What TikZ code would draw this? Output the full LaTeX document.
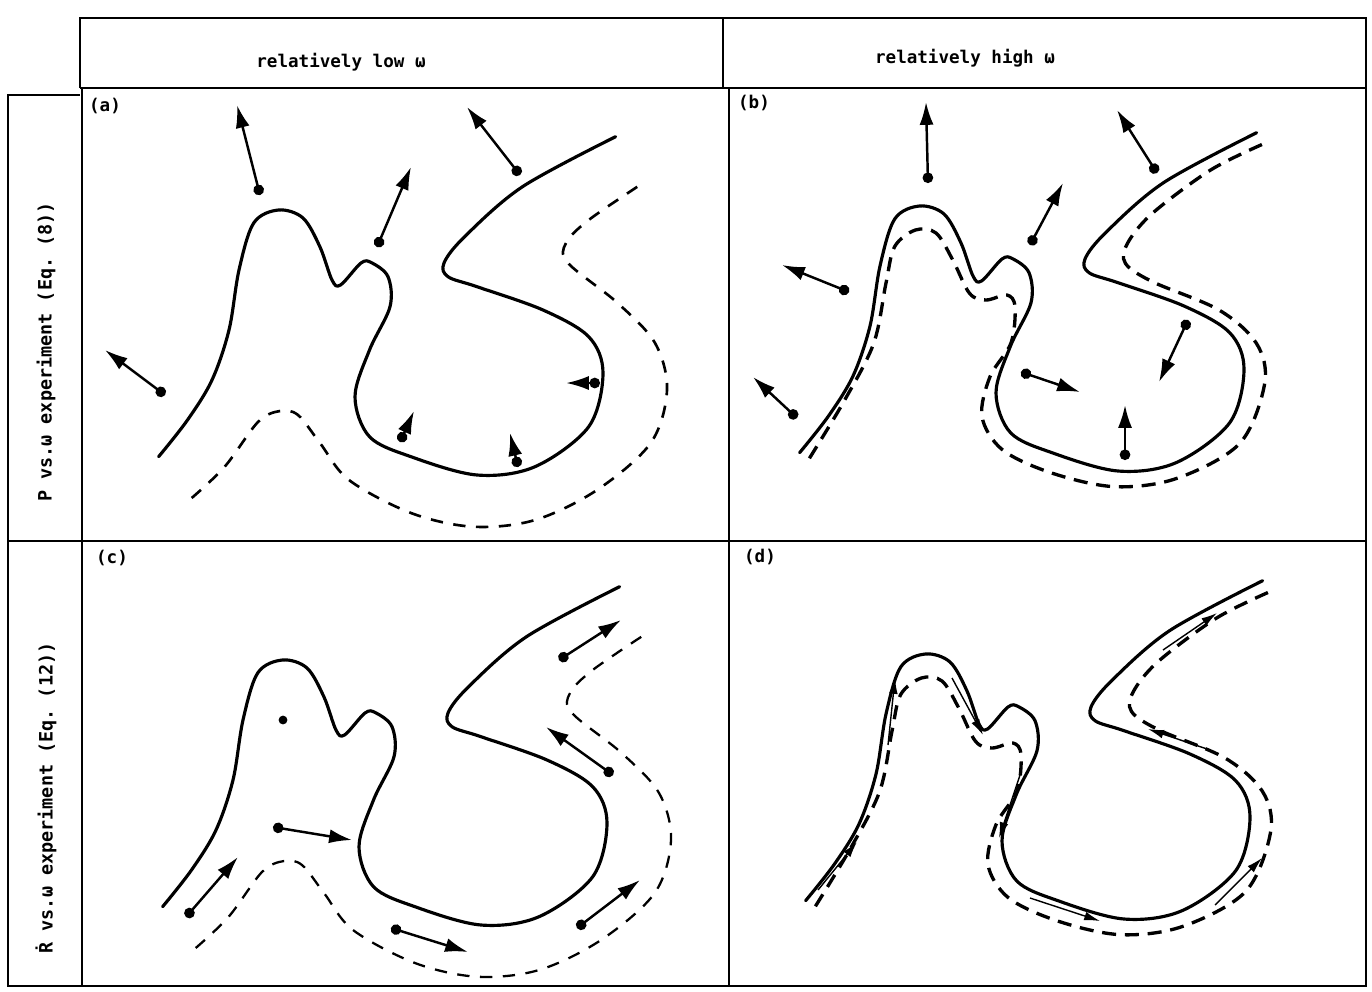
\documentclass[tikz,border=0pt]{standalone}
\usepackage{fontspec}
\setmonofont{DejaVu Sans Mono}
\usepackage{tikz}
\usetikzlibrary{arrows.meta}

\newcommand{\blob}{plot[smooth, tension=0.55] coordinates {(158.6,456.7) (187.5,420) (212,380) (229,330) (239,270) (253.7,223) (278.5,210) (303,218) (320,247) (332,280) (340.5,285) (361,263) (371.5,262.7) (388,276.7) (390,306.7) (369.5,350) (355,396.7) (369.5,436.7) (411,456.7) (477,475) (535,466.7) (588.7,426.7) (603,373) (588.7,336.7) (543,310) (477,286.7) (448,276.7) (444,263) (464.6,236.7) (522.5,186.7) (615.6,136.7)}}
\newcommand{\farfront}{plot[smooth, tension=0.55] coordinates {(191.7,498) (224.7,466.7) (258,422) (280,411) (298,415) (320,443) (349,480) (411,513) (473,526.7) (535,520) (597,490) (650.7,443) (667,390) (655,343) (617.6,303) (568,263) (566,243) (588.7,220) (640,185)}}
\newcommand{\nearfront}{plot[smooth, tension=0.55] coordinates {(168.4,462.3) (203.7,404) (232.8,347) (245,287) (253.6,250.7) (274.4,234) (295,237) (311.8,264) (328.5,297.3) (345,304) (366,299) (374,310.7) (370,347) (349,380.7) (341,420.7) (361.7,454) (411.6,477.3) (474,490.7) (536,482.3) (598.8,447.3) (623.7,387.3) (615.4,347.3) (578,314) (511.4,285.7) (484.4,267.3) (486.5,247.3) (511.4,217.3) (569.6,174) (623.7,147.3)}}

\begin{document}
\begin{tikzpicture}[x=0.02cm, y=-0.02cm, >=Latex,
    every node/.style={font=\ttfamily\bfseries\fontsize{10}{12}\selectfont},
    gridline/.style={line width=1.6pt},
    contour/.style={line width=1.8pt, line join=round, line cap=round},
    front/.style={line width=1.5pt, dash pattern=on 7pt off 6pt},
    velarrow/.style={line width=1.4pt, {Circle[length=6pt]}-{Latex[length=13pt,width=8pt]}},
    slide/.style={line width=0.8pt, -{Latex[length=9pt,width=5pt]}}]
    \useasboundingbox (0,0) rectangle (1372,991);

    % table
    \draw[gridline] (80,88) -- (80,18) -- (1366,18) -- (1366,986) -- (8,986) -- (8,95) -- (80,95);
    \draw[gridline] (80,88) -- (1366,88);
    \draw[gridline] (723,18) -- (723,88);
    \draw[gridline] (82,88) -- (82,986);
    \draw[gridline] (729,88) -- (729,986);
    \draw[gridline] (8,541) -- (1366,541);

    \node (hdlow) at (341,62) {relatively low ω};
    \node (hdhigh) at (965,58) {relatively high ω};
    \node[rotate=90, font=\ttfamily\bfseries\fontsize{10.5}{12}\selectfont] (rowP) at (46,352) {P vs.ω experiment (Eq. (8))};
    \node[rotate=90, font=\ttfamily\bfseries\fontsize{10.5}{12}\selectfont] (rowR) at (46,798) {\.{R} vs.ω experiment (Eq. (12))};

    \node (taga) at (105,106) {(a)};
    \node (tagb) at (754,103) {(b)};
    \node (tagc) at (112,558) {(c)};
    \node (tagd) at (760,557) {(d)};

    % (a)
    \draw[contour] \blob;
    \draw[front] \farfront;
    \draw[velarrow] (260,195) -- (237,105);
    \draw[velarrow] (377,247) -- (411,167);
    \draw[velarrow] (520,175) -- (467,107);
    \draw[velarrow] (165,395) -- (105,350);
    \draw[velarrow] (400,442) -- (414,411);
    \draw[velarrow] (518,467) -- (510,433);
    \draw[velarrow] (600,383) -- (566,383);

    % (b)
    \begin{scope}[shift={(641,-4)}]
        \draw[contour] \blob;
        \draw[front, line width=1.9pt, dash pattern=on 8pt off 5pt] \nearfront;
    \end{scope}
    \draw[velarrow] (928,183) -- (926,102);
    \draw[velarrow] (849,292) -- (782,265);
    \draw[velarrow] (797,418) -- (753,377);
    \draw[velarrow] (1030,245) -- (1063,183);
    \draw[velarrow] (1157,173) -- (1117,110);
    \draw[velarrow] (1188,320) -- (1159,382);
    \draw[velarrow] (1021,372) -- (1080,392);
    \draw[velarrow] (1125,460) -- (1125,405);

    % (c)
    \begin{scope}[shift={(4,450)}]
        \draw[contour] \blob;
        \draw[front, line width=1.3pt] \farfront;
    \end{scope}
    \fill (283,720) circle (2.5pt);
    \draw[velarrow] (186,917) -- (238,857);
    \draw[velarrow] (273,827) -- (352,840);
    \draw[velarrow] (559,660) -- (621,620);
    \draw[velarrow] (613,775) -- (546,727);
    \draw[velarrow] (577,928) -- (640,880);
    \draw[velarrow] (391,928) -- (468,952);

    % (d)
    \begin{scope}[shift={(647,444)}]
        \draw[contour] \blob;
        \draw[front, line width=1.9pt, dash pattern=on 8pt off 5pt] \nearfront;
    \end{scope}
    \draw[slide] (818,890) -- (857,842);
    \draw[slide] (888,745) -- (895,678);
    \draw[slide] (952,678) -- (983,735);
    \draw[slide] (1020,775) -- (999,838);
    \draw[slide] (1030,898) -- (1100,921);
    \draw[slide] (1215,905) -- (1262,858);
    \draw[slide] (1210,750) -- (1148,729);
    \draw[slide] (1163,650) -- (1217,613);
\end{tikzpicture}
\end{document}
